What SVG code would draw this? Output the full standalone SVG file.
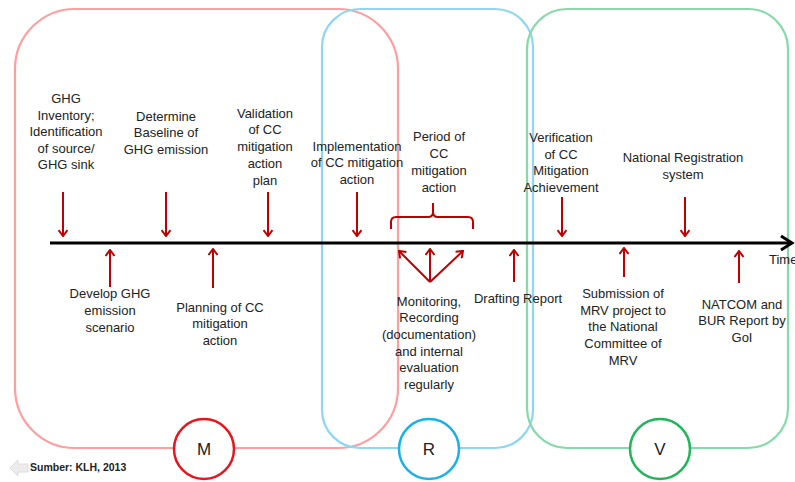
<svg xmlns="http://www.w3.org/2000/svg" width="795" height="482" viewBox="0 0 795 482">
<style>
.t{font-family:"Liberation Sans",Arial,sans-serif;font-size:13px;fill:#222;text-anchor:middle}
.arr{stroke:#c00000;stroke-width:2;fill:none;marker-end:url(#ah)}
.box{fill:none;stroke-width:2.2}
.circ{fill:#fff;stroke-width:2.5}
.cl{font-family:"Liberation Sans",Arial,sans-serif;font-size:17px;fill:#222;text-anchor:middle}
</style>
<defs>
<marker id="ah" viewBox="0 0 10 10" refX="9" refY="5" markerWidth="10" markerHeight="10" markerUnits="userSpaceOnUse" orient="auto">
<path d="M3,0.5 L9,5 L3,9.5" fill="none" stroke="#c00000" stroke-width="2"/>
</marker>
</defs>
<rect width="795" height="482" fill="#fff"/>
<g id="phase-M">
<rect class="box" x="15" y="9" width="383" height="439" rx="60" ry="60" stroke="#ff9e9e"/>
</g>
<g id="phase-R">
<rect class="box" x="322" y="9" width="211" height="439" rx="38" ry="38" stroke="#8fd6f2"/>
</g>
<g id="phase-V">
<rect class="box" x="527" y="9" width="261" height="439" rx="40" ry="40" stroke="#86d9a9"/>
</g>
<g id="timeline">
<line x1="50" y1="243" x2="792" y2="243" stroke="#000" stroke-width="3"/>
<path d="M781,236 L792,243 L781,250" fill="none" stroke="#000" stroke-width="3"/>
<text x="769" y="264" font-family="Liberation Sans,Arial,sans-serif" font-size="13" fill="#222">Time</text>
</g>
<g id="connectors">
<line class="arr" x1="63" y1="192" x2="63" y2="236"/>
<line class="arr" x1="166" y1="192" x2="166" y2="236"/>
<line class="arr" x1="268" y1="192" x2="268" y2="236"/>
<line class="arr" x1="357" y1="192" x2="357" y2="236"/>
<line class="arr" x1="562" y1="197" x2="562" y2="236"/>
<line class="arr" x1="685" y1="197" x2="685" y2="236"/>
<line class="arr" x1="110" y1="287" x2="110" y2="250"/>
<line class="arr" x1="213" y1="288" x2="213" y2="249"/>
<line class="arr" x1="514" y1="282" x2="514" y2="250"/>
<line class="arr" x1="624" y1="277" x2="624" y2="248"/>
<line class="arr" x1="739" y1="283" x2="739" y2="251"/>
<line class="arr" x1="430" y1="282" x2="399" y2="251"/>
<line class="arr" x1="430" y1="282" x2="430" y2="249"/>
<line class="arr" x1="430" y1="282" x2="463" y2="251"/>
<path d="M391,229 L391,222 Q391,217 396,217 L428,217 Q433,217 433,212 L433,203 M433,212 Q433,217 438,217 L468,217 Q473,217 473,222 L473,229" fill="none" stroke="#c00000" stroke-width="2"/>
</g>
<g id="n-ghg-inventory">
<text class="t" x="66" y="103">GHG</text>
<text class="t" x="66" y="119.5">Inventory;</text>
<text class="t" x="66" y="136">Identification</text>
<text class="t" x="66" y="152.5">of source/</text>
<text class="t" x="66" y="169">GHG sink</text>
</g>
<g id="n-baseline">
<text class="t" x="166" y="120.5">Determine</text>
<text class="t" x="166" y="137">Baseline of</text>
<text class="t" x="166" y="153.5">GHG emission</text>
</g>
<g id="n-validation">
<text class="t" x="265" y="117.5">Validation</text>
<text class="t" x="265" y="134">of CC</text>
<text class="t" x="265" y="151">mitigation</text>
<text class="t" x="265" y="167.5">action</text>
<text class="t" x="265" y="184.5">plan</text>
</g>
<g id="n-implementation">
<text class="t" x="357" y="150.5">Implementation</text>
<text class="t" x="357" y="167">of CC mitigation</text>
<text class="t" x="357" y="183.5">action</text>
</g>
<g id="n-period">
<text class="t" x="439" y="141">Period of</text>
<text class="t" x="439" y="158">CC</text>
<text class="t" x="439" y="175">mitigation</text>
<text class="t" x="439" y="191.5">action</text>
</g>
<g id="n-verification">
<text class="t" x="561" y="142">Verification</text>
<text class="t" x="561" y="158.5">of CC</text>
<text class="t" x="561" y="175">Mitigation</text>
<text class="t" x="561" y="192">Achievement</text>
</g>
<g id="n-registration">
<text class="t" x="683" y="162">National Registration</text>
<text class="t" x="683" y="178.5">system</text>
</g>
<g id="n-scenario">
<text class="t" x="110" y="298">Develop GHG</text>
<text class="t" x="110" y="315">emission</text>
<text class="t" x="110" y="332">scenario</text>
</g>
<g id="n-planning">
<text class="t" x="220" y="311.5">Planning of CC</text>
<text class="t" x="220" y="328">mitigation</text>
<text class="t" x="220" y="344.5">action</text>
</g>
<g id="n-monitoring">
<text class="t" x="429" y="305.5">Monitoring,</text>
<text class="t" x="429" y="322">Recording</text>
<text class="t" x="429" y="338.5">(documentation)</text>
<text class="t" x="429" y="355.5">and internal</text>
<text class="t" x="429" y="372">evaluation</text>
<text class="t" x="429" y="388.5">regularly</text>
</g>
<g id="n-drafting">
<text class="t" x="518" y="302.5">Drafting Report</text>
</g>
<g id="n-submission">
<text class="t" x="623" y="297.5">Submission  of</text>
<text class="t" x="623" y="314.5">MRV project  to</text>
<text class="t" x="623" y="331">the National</text>
<text class="t" x="623" y="347.5">Committee of</text>
<text class="t" x="623" y="364.5">MRV</text>
</g>
<g id="n-natcom">
<text class="t" x="742" y="308.5">NATCOM and</text>
<text class="t" x="742" y="325">BUR Report  by</text>
<text class="t" x="742" y="341.5">GoI</text>
</g>
<g id="c-M">
<circle class="circ" cx="204" cy="449" r="30" stroke="#e8141e"/>
<text class="cl" x="204" y="455">M</text>
</g>
<g id="c-R">
<circle class="circ" cx="429" cy="449" r="30" stroke="#1ab0e8"/>
<text class="cl" x="429" y="455">R</text>
</g>
<g id="c-V">
<circle class="circ" cx="660" cy="449" r="30" stroke="#1fb558"/>
<text class="cl" x="660" y="455">V</text>
</g>
<g id="source">
<path d="M10,468 L18,460 L18,464 L28,464 L28,472 L18,472 L18,476 Z" fill="#ececec" stroke="#dddddd" stroke-width="1"/>
<text x="30" y="471" font-family="Liberation Sans,Arial,sans-serif" font-size="10.5" font-weight="bold" fill="#222">Sumber: KLH, 2013</text>
</g>
</svg>
